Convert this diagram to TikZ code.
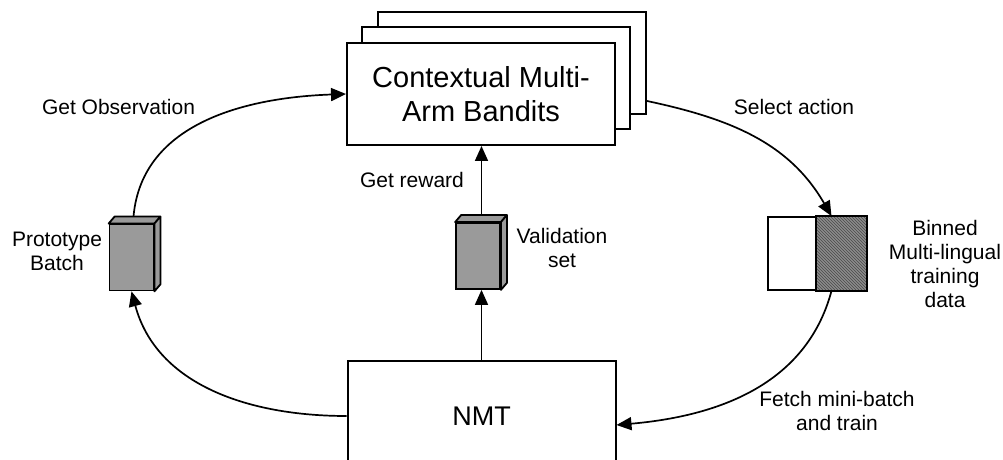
\documentclass[tikz,border=0pt]{standalone}
\usepackage{fontspec}
\setmainfont{Liberation Sans}
\usepackage{tikz}
\usetikzlibrary{positioning,arrows.meta,patterns,calc}
\definecolor{cubegray}{HTML}{9A9A9A}
\definecolor{bingray}{HTML}{8C8C8C}
\definecolor{hatchgray}{HTML}{4A4A4A}

\begin{document}
\begin{tikzpicture}[
    x=1pt, y=1pt,
    panel/.style={draw=black, fill=white, line width=2pt,
        minimum width=268pt, minimum height=102pt, align=center,
        font=\fontsize{29}{34}\selectfont},
    cube/.style={draw=black, fill=cubegray, line width=1.8pt,
        minimum width=44pt, minimum height=66pt, inner sep=0pt},
    bin/.style={draw=black, line width=1.8pt,
        minimum width=49pt, minimum height=73pt, inner sep=0pt},
    lbl/.style={align=center, font=\fontsize{21}{24}\selectfont},
    flow/.style={line width=1.7pt, -{Triangle[length=15pt,width=13pt]}}
]
    \useasboundingbox (0,0) rectangle (1003,460);
    \clip (0,0) rectangle (1003,460);

    % Bandit stack
    \node[panel] (bandit3) at (512,397) {};
    \node[panel] (bandit2) at (496,382) {};
    \node[panel] (bandit) at (481,366) {Contextual Multi-\\Arm Bandits};

    % NMT
    \node[panel, minimum height=110pt, font=\fontsize{27}{32}\selectfont] (nmt) at (481.5,44) {NMT};

    % Batches
    \node[cube] (proto) at (131.5,202.5) {};
    \node[cube] (valid) at (478,204) {};
    \foreach \c in {proto,valid} {
        \draw[line width=1.8pt, fill=cubegray, line join=round] (\c.north west) -- ++(6,7)
            -- ($(\c.north east)+(6,7)$) -- (\c.north east) -- cycle;
        \draw[line width=1.8pt, fill=cubegray, line join=round] (\c.north east) -- ++(6,7)
            -- ($(\c.south east)+(6,7)$) -- (\c.south east) -- cycle;
    }

    % Binned data
    \node[bin, fill=white] (binL) at (792.5,206.5) {};
    \node[bin, draw=none, fill=bingray, postaction={pattern=north west lines, pattern color=hatchgray}] (binR) at (841.5,206.5) {};
    \draw[line width=1.8pt] (binR.north west) rectangle (binR.south east);

    % Labels
    \node[lbl] (obsLbl) at (118.5,353) {Get Observation};
    \node[lbl] (rewLbl) at (412,280) {Get reward};
    \node[lbl] (actLbl) at (794,353) {Select action};
    \node[lbl] (fetchLbl) at (837,49) {Fetch mini-batch\\and train};
    \node[lbl] (protoLbl) at (57,209) {Prototype\\Batch};
    \node[lbl] (validLbl) at (562,212) {Validation\\set};
    \node[lbl] (binLbl) at (945,196) {Binned\\Multi-lingual\\training\\data};

    % Connectors
    \draw[flow] (nmt.west) to[out=180,in=-75] (proto.south);
    \draw[flow] ($(proto.north)+(2,7)$) to[out=85,in=182] (bandit.west);
    \draw[flow] (nmt.north) -- (nmt.north |- valid.south);
    \draw[flow] ($(valid.north)+(3.5,7)$) -- (bandit.south -| nmt.north);
    \draw[flow] ($(bandit3.south east)+(0,14)$) to[out=-12,in=120] ([xshift=-10pt]binR.north);
    \draw[flow] ([xshift=-10pt]binR.south) to[out=-105,in=5] ($(nmt.east)+(0,-9)$);
\end{tikzpicture}
\end{document}
